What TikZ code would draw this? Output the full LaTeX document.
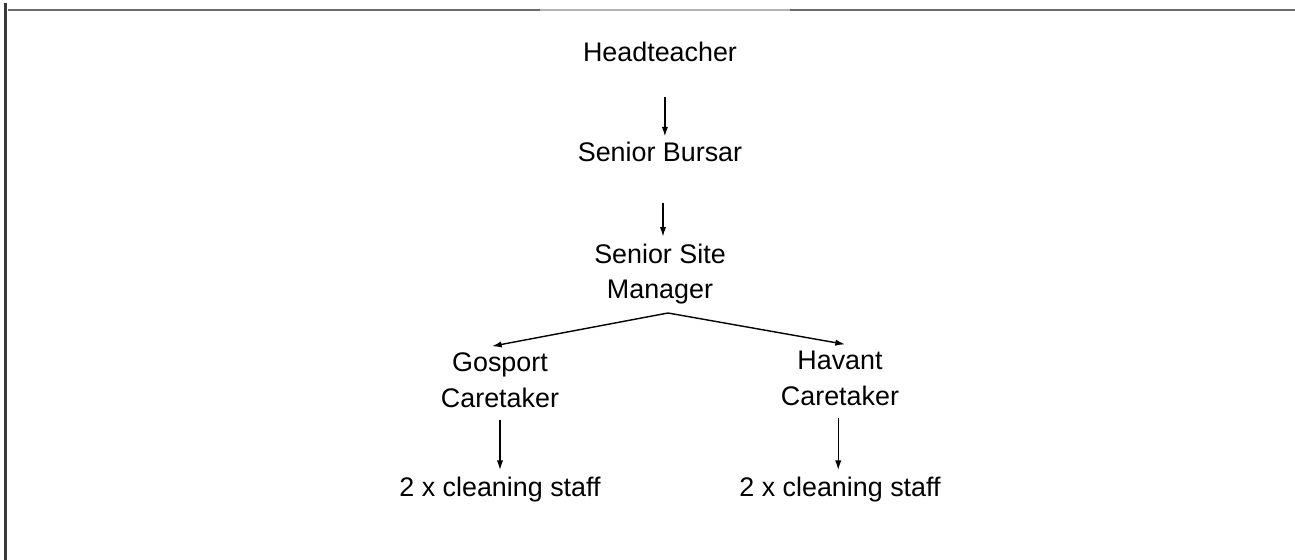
\documentclass[tikz,border=0pt]{standalone}
\usepackage{fontspec}
\setmainfont{Liberation Sans}
\usetikzlibrary{arrows.meta,calc}

\begin{document}
\begin{tikzpicture}[x=0.02cm, y=-0.02cm,
	role/.style={align=center, inner sep=0pt, font=\fontsize{15.3}{20.4}\selectfont},
	link/.style={line width=0.8pt, -{Latex[length=5.5pt,width=3.6pt]}}]
		%%%%% START %%%%%
		
		\useasboundingbox (0, 0) rectangle (1295, 560);
		
		% frame
		\draw[line width=1.4pt, color=black!58] (8, 10) -- (540, 10);
		\draw[line width=0.6pt, color=black!30] (540, 10) -- (790, 10);
		\draw[line width=1.4pt, color=black!58] (790, 10) -- (1295, 10);
		\draw[line width=1.7pt, color=black!78] (5.5, 3) -- (5.5, 560);
		
		\node[role] (head) at (660, 52) {Headteacher};
		\node[role] (bursar) at (660, 152) {Senior Bursar};
		\node[role] (site) at (660, 274) {Senior Site\\Manager};
		\node[role] (gosport) at (500, 380) {Gosport\\Caretaker};
		\node[role] (havant) at (840, 378) {Havant\\Caretaker};
		\node[role] (gclean) at (500, 490) {2 x cleaning staff};
		\node[role] (hclean) at (840, 490) {2 x cleaning staff};
		
		\draw[link, shorten <=19.8pt, shorten >=3pt] ([xshift=2.8pt]head.south) -- ([xshift=2.8pt]head.south |- bursar.north);
		\draw[link, shorten <=23pt, shorten >=3.7pt] ([xshift=1.7pt]bursar.south) -- ([xshift=1.7pt]bursar.south |- site.north);
		
		\coordinate (fork) at (668, 313);
		\draw[link] (fork) -- ($(gosport.north)+(-8, -6)$);
		\draw[link] (fork) -- ($(havant.north)+(5, -6)$);
		
		\draw[link, shorten <=7pt, shorten >=4pt] (gosport.south) -- (gclean.north);
		\draw[link, shorten <=7pt, shorten >=4pt] ([xshift=-1pt]havant.south) -- ([xshift=-1pt]hclean.north);
		
		%%%%% END %%%%%
	\end{tikzpicture}
\end{document}
